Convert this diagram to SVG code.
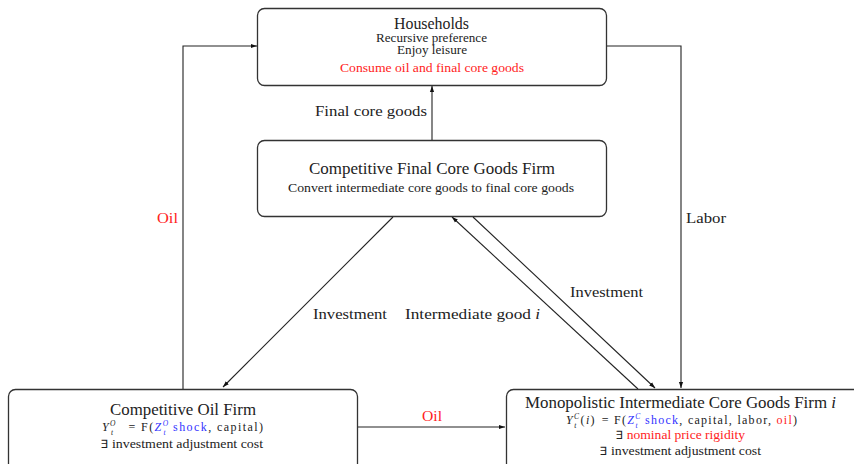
<svg xmlns="http://www.w3.org/2000/svg" width="854" height="464" viewBox="0 0 854 464" font-family="'Liberation Serif', 'DejaVu Serif', serif">
<defs>
<marker id="ah" viewBox="0 0 10 10" refX="10" refY="5" markerWidth="6" markerHeight="6" markerUnits="userSpaceOnUse" orient="auto">
<path d="M0,1.5 L10,5 L0,8.5 Z" fill="#111"/>
</marker>
<style>
.box{fill:#fff;stroke:#333;stroke-width:1.3}
.t{font-family:'Liberation Serif','DejaVu Serif',serif;fill:#222}
.ttl{font-size:16px}
.sm{font-size:11.5px}
.fm{font-size:12px}
.sup{font-size:7.5px}
.lbl{font-size:15.5px}
.red{fill:#f22}
.blue{fill:#33f}
.it{font-style:italic}
.ln{fill:none;stroke:#222;stroke-width:1.1}
</style>
</defs>
<rect width="854" height="464" fill="#fff"/>
<g id="connectors">
<line class="ln" x1="432" y1="140" x2="432" y2="86" marker-end="url(#ah)"/>
<polyline class="ln" points="183,389 183,46 257,46" marker-end="url(#ah)"/>
<polyline class="ln" points="607,46 681,46 681,388" marker-end="url(#ah)"/>
<line class="ln" x1="393" y1="217" x2="223" y2="387" marker-end="url(#ah)"/>
<line class="ln" x1="638" y1="389" x2="452" y2="217" marker-end="url(#ah)"/>
<line class="ln" x1="473" y1="217" x2="655" y2="388" marker-end="url(#ah)"/>
<line class="ln" x1="358" y1="427" x2="505" y2="427" marker-end="url(#ah)"/>
<text class="t lbl" x="315" y="116" textLength="112" lengthAdjust="spacingAndGlyphs">Final core goods</text>
<text class="t lbl red" x="157" y="223" textLength="21" lengthAdjust="spacingAndGlyphs">Oil</text>
<text class="t lbl" x="686" y="223" textLength="40" lengthAdjust="spacingAndGlyphs">Labor</text>
<text class="t lbl" x="313" y="319" textLength="74" lengthAdjust="spacingAndGlyphs">Investment</text>
<text class="t lbl" x="405" y="319" textLength="135" lengthAdjust="spacingAndGlyphs">Intermediate good <tspan class="it">i</tspan></text>
<text class="t lbl" x="570" y="297" textLength="73" lengthAdjust="spacingAndGlyphs">Investment</text>
<text class="t lbl red" x="422" y="421" textLength="20" lengthAdjust="spacingAndGlyphs">Oil</text>
</g>
<g id="households">
<rect class="box" x="257.5" y="8.5" width="349" height="77" rx="7"/>
<text class="t ttl" x="394" y="29" textLength="75" lengthAdjust="spacingAndGlyphs">Households</text>
<text class="t sm" x="376" y="42" textLength="111" lengthAdjust="spacingAndGlyphs">Recursive preference</text>
<text class="t sm" x="397" y="54" textLength="70" lengthAdjust="spacingAndGlyphs">Enjoy leisure</text>
<text class="t sm red" x="340" y="72" textLength="184" lengthAdjust="spacingAndGlyphs">Consume oil and final core goods</text>
</g>
<g id="final-firm">
<rect class="box" x="257.5" y="140.5" width="349" height="76" rx="7"/>
<text class="t ttl" x="309" y="174" textLength="246" lengthAdjust="spacingAndGlyphs">Competitive Final Core Goods Firm</text>
<text class="t sm" x="288" y="192" textLength="286" lengthAdjust="spacingAndGlyphs">Convert intermediate core goods to final core goods</text>
</g>
<g id="oil-firm">
<rect class="box" x="8.5" y="389.5" width="349" height="82" rx="7"/>
<text class="t ttl" x="110" y="415" textLength="146" lengthAdjust="spacingAndGlyphs">Competitive Oil Firm</text>
<text class="t fm" x="102" y="431" textLength="161" lengthAdjust="spacing"><tspan class="it">Y</tspan><tspan class="it sup" dy="-5">O</tspan><tspan class="it sup" dx="-6" dy="9">t</tspan><tspan dy="-4" dx="14">= F(</tspan><tspan class="it blue">Z</tspan><tspan class="it blue sup" dy="-5">O</tspan><tspan class="it blue sup" dx="-6" dy="9">t</tspan><tspan class="blue" dy="-4" dx="6">shock</tspan>, capital)</text>
<text class="t sm" x="101" y="448" textLength="162" lengthAdjust="spacingAndGlyphs">∃ investment adjustment cost</text>
</g>
<g id="mono-firm">
<rect class="box" x="506.5" y="389.5" width="360" height="82" rx="7"/>
<text class="t ttl" x="525" y="408" textLength="311" lengthAdjust="spacingAndGlyphs">Monopolistic Intermediate Core Goods Firm <tspan class="it">i</tspan></text>
<text class="t fm" x="566" y="424" textLength="231" lengthAdjust="spacing"><tspan class="it">Y</tspan><tspan class="it sup" dy="-5">C</tspan><tspan class="it sup" dx="-6" dy="9">t</tspan><tspan dy="-4" dx="3">(<tspan class="it">i</tspan>)</tspan><tspan dx="6">= F(</tspan><tspan class="it blue">Z</tspan><tspan class="it blue sup" dy="-5">C</tspan><tspan class="it blue sup" dx="-6" dy="9">t</tspan><tspan class="blue" dy="-4" dx="6">shock</tspan>, capital, labor, <tspan class="red">oil</tspan>)</text>
<text class="t sm" x="616" y="439" textLength="129" lengthAdjust="spacingAndGlyphs"><tspan>∃ </tspan><tspan class="red">nominal price rigidity</tspan></text>
<text class="t sm" x="600" y="455" textLength="161" lengthAdjust="spacingAndGlyphs">∃ investment adjustment cost</text>
</g>
</svg>
